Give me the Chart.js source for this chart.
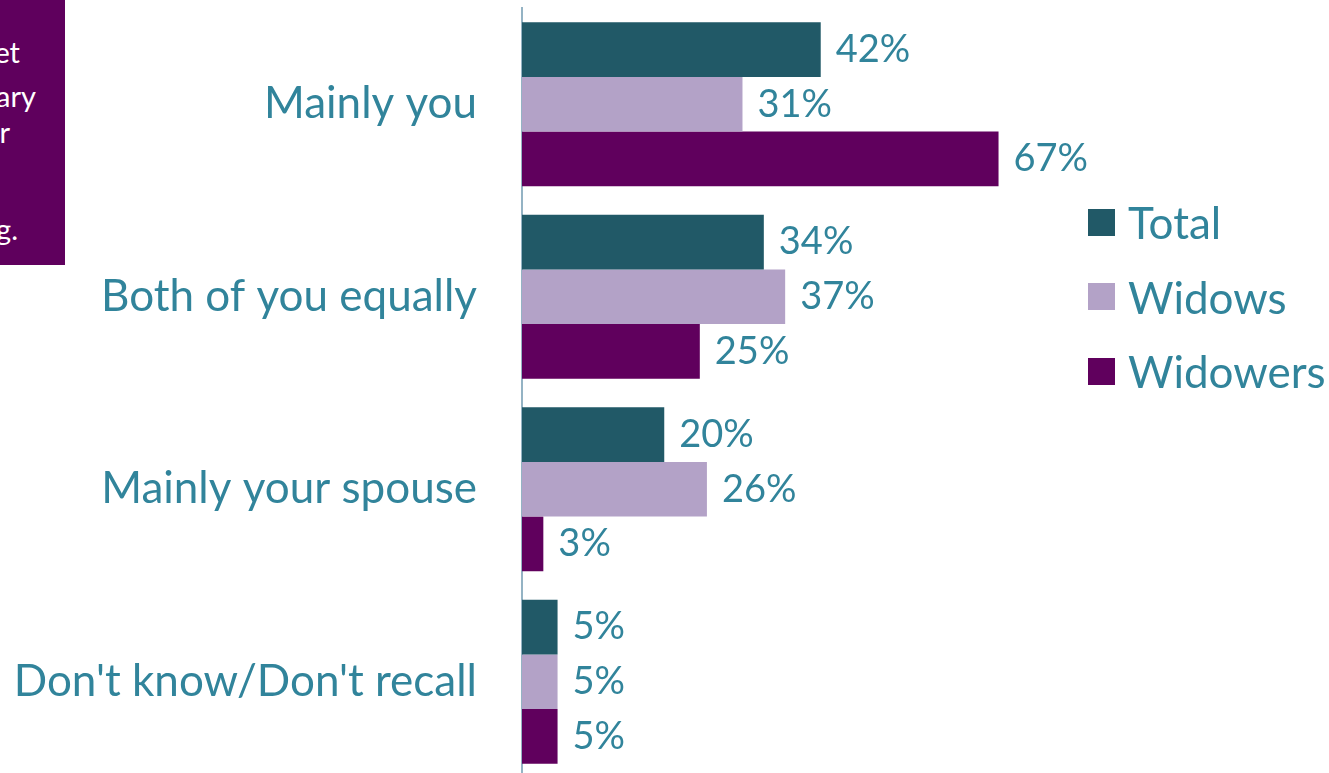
<!DOCTYPE html>
<html>
<head>
<meta charset="utf-8">
<script src="https://cdn.jsdelivr.net/npm/chart.js@4/dist/chart.umd.min.js"></script>
<style>
  html, body { margin: 0; padding: 0; background: #fff; overflow: hidden; }
  body { width: 1329px; height: 773px; position: relative; font-family: Lato, 'Open Sans', sans-serif; }
  #wrap { position: absolute; left: 0; top: 0; width: 1329px; height: 780px; }
  .note-box { position: absolute; left: 0; top: 0; width: 65px; height: 265px; background: #5f005d; overflow: hidden; }
  .note-box span { position: absolute; color: #fff; font-size: 29px; line-height: 29px; white-space: nowrap; }
  .legend { position: absolute; left: 1088px; top: 185px; }
  .legend__item { display: flex; align-items: center; height: 74.5px; }
  .legend__swatch { width: 27px; height: 27px; margin-right: 13px; }
  .legend__label { color: #31849b; font-size: 44px; }
</style>
</head>
<body>
<div class="note-box">
  <span style="right:45px; top:37px">et</span>
  <span style="right:29px; top:81px">ary</span>
  <span style="right:55px; top:117px">r</span>
  <span style="right:47px; top:214px">g.</span>
</div>
<div id="wrap"><canvas id="chart"></canvas></div>
<div class="legend" id="legend"></div>
<script>
  const categories = ['Mainly you', 'Both of you equally', 'Mainly your spouse', "Don't know/Don't recall"];
  const seriesNames = ['Total', 'Widows', 'Widowers'];
  const totalValues = [42, 34, 20, 5];
  const widowsValues = [31, 37, 26, 5];
  const widowersValues = [67, 25, 3, 5];
  const seriesColors = ['#215967', '#b3a2c7', '#60005d'];

  const LABEL_COLOR = '#31849b';
  const FONT = "Lato, 'Open Sans', sans-serif";
  const AXIS_LEFT = 522;

  // percentage labels just past the end of each bar
  const barValueLabels = {
    id: 'barValueLabels',
    afterDatasetsDraw(chart) {
      const { ctx } = chart;
      ctx.save();
      ctx.fillStyle = LABEL_COLOR;
      ctx.font = `38px ${FONT}`;
      ctx.textBaseline = 'middle';
      ctx.textAlign = 'left';
      chart.data.datasets.forEach((ds, i) => {
        chart.getDatasetMeta(i).data.forEach((bar, j) => {
          ctx.fillText(`${ds.data[j]}%`, bar.x + 15, bar.y);
        });
      });
      ctx.restore();
    },
  };

  const valueSets = [totalValues, widowsValues, widowersValues];
  const datasets = seriesNames.map((name, i) => ({
    label: name,
    data: valueSets[i],
    backgroundColor: seriesColors[i],
    barPercentage: 1,
    categoryPercentage: 0.852,
  }));

  new Chart(document.getElementById('chart'), {
    type: 'bar',
    data: { labels: categories, datasets },
    plugins: [barValueLabels],
    options: {
      indexAxis: 'y',
      responsive: true,
      maintainAspectRatio: false,
      animation: false,
      layout: { padding: { top: 8, right: 238, bottom: 2, left: 0 } },
      plugins: { legend: { display: false }, tooltip: { enabled: false } },
      scales: {
        x: {
          min: 0,
          max: 80,
          display: false,
          grid: { display: false },
        },
        y: {
          grid: { display: false, drawTicks: false },
          border: { display: true, color: '#94b3c4', width: 2 },
          ticks: {
            color: LABEL_COLOR,
            font: { family: FONT, size: 44 },
            padding: 45,
          },
          afterFit(scale) {
            scale.width = AXIS_LEFT;
            // tick padding would otherwise shrink the plot vertically
            scale.paddingTop = 0;
            scale.paddingBottom = 0;
          },
        },
      },
    },
  });

  const legend = document.getElementById('legend');
  seriesNames.forEach((name, i) => {
    const item = document.createElement('div');
    item.className = 'legend__item';
    item.innerHTML = `<span class="legend__swatch" style="background:${seriesColors[i]}"></span><span class="legend__label">${name}</span>`;
    legend.appendChild(item);
  });
</script>
</body>
</html>
